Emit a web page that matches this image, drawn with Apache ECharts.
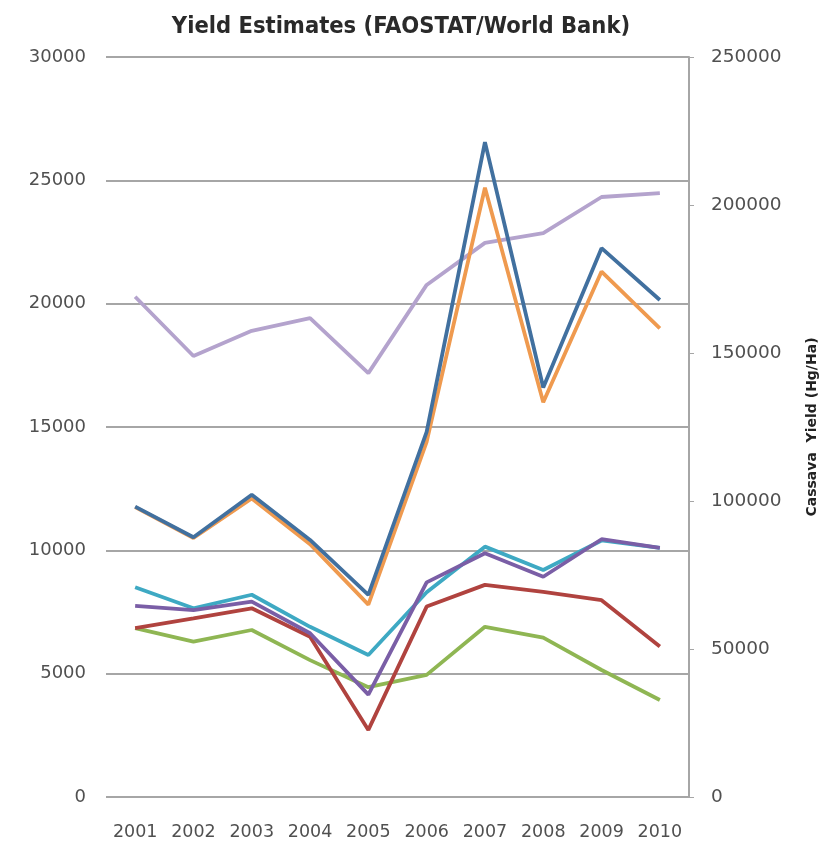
<!DOCTYPE html>
<html>
<head>
<meta charset="utf-8">
<script src="https://cdn.jsdelivr.net/npm/echarts@6/dist/echarts.min.js"></script>
<style>html,body{margin:0;padding:0;background:#fff}#c{width:827px;height:847px}</style>
</head>
<body>
<div id="c"></div>
<script>
var years = ['2001','2002','2003','2004','2005','2006','2007','2008','2009','2010'];
var leftTicks = [0, 5000, 10000, 15000, 20000, 25000, 30000];
var rightTicks = [0, 50000, 100000, 150000, 200000, 250000];
var seriesBlue   = [11770, 10530, 12250, 10420, 8190, 14800, 26550, 16600, 22250, 20150];
var seriesOrange = [11750, 10500, 12100, 10250, 7800, 14400, 24700, 16000, 21300, 19000];
var seriesCyan   = [8500, 7650, 8200, 6900, 5760, 8300, 10150, 9200, 10400, 10100];
var seriesPurple = [7750, 7580, 7920, 6640, 4150, 8700, 9880, 8930, 10450, 10100];
var seriesRed    = [6850, 7240, 7650, 6500, 2720, 7720, 8600, 8320, 7980, 6100];
var seriesGreen  = [6850, 6300, 6770, 5550, 4450, 4950, 6900, 6460, 5150, 3930];
var cassava      = [169000, 149000, 157500, 161800, 143200, 173000, 187200, 190500, 202700, 204000];

var chart = echarts.init(document.getElementById('c'));
function line(name, data, color, axis, z) {
  return {name: name, type: 'line', data: data, yAxisIndex: axis, symbol: 'none',
    lineStyle: {color: color, width: 3.8}, itemStyle: {color: color}, z: z};
}
function plain(v) { return String(v); }
chart.setOption({
  animation: false,
  title: {text: 'Yield Estimates (FAOSTAT/World Bank)', left: 396, top: 10, textAlign: 'center',
    textStyle: {fontFamily: 'DejaVu Sans Condensed', fontWeight: 'bold', fontSize: 23.5, color: '#2a2a2a'}},
  grid: {left: 106, right: 138, top: 57, bottom: 50},
  xAxis: {type: 'category', data: years, boundaryGap: true,
    axisLine: {show: false}, axisTick: {show: false},
    axisLabel: {fontFamily: 'DejaVu Sans', fontSize: 17.5, color: '#505050', margin: 26}},
  yAxis: [
    {type: 'value', min: 0, max: 30000, interval: 5000, position: 'left',
      axisLine: {show: false}, axisTick: {show: false},
      axisLabel: {fontFamily: 'DejaVu Sans', fontSize: 18, color: '#505050', margin: 20, formatter: plain},
      splitLine: {lineStyle: {color: '#a6a6a6', width: 2}}},
    {type: 'value', min: 0, max: 250000, interval: 50000, position: 'right',
      name: 'Cassava  Yield (Hg/Ha)', nameLocation: 'middle', nameRotate: 90, nameGap: 116,
      nameTextStyle: {fontFamily: 'DejaVu Sans', fontWeight: 'bold', fontSize: 14, color: '#222'},
      axisLine: {show: true, lineStyle: {color: '#a6a6a6', width: 2}},
      axisTick: {show: true, length: 5, lineStyle: {color: '#a6a6a6'}},
      axisLabel: {fontFamily: 'DejaVu Sans', fontSize: 18.5, color: '#505050', margin: 22, formatter: plain},
      splitLine: {show: false}}
  ],
  series: [
    line('Cassava', cassava, '#b4a3cd', 1, 2),
    line('Series 6', seriesGreen, '#8fb653', 0, 3),
    line('Series 5', seriesRed, '#b0433f', 0, 4),
    line('Series 3', seriesCyan, '#3ea9c3', 0, 5),
    line('Series 4', seriesPurple, '#7a5ea6', 0, 6),
    line('Series 2', seriesOrange, '#ef9a4f', 0, 7),
    line('Series 1', seriesBlue, '#41709f', 0, 8)
  ]
});
</script>
</body>
</html>
